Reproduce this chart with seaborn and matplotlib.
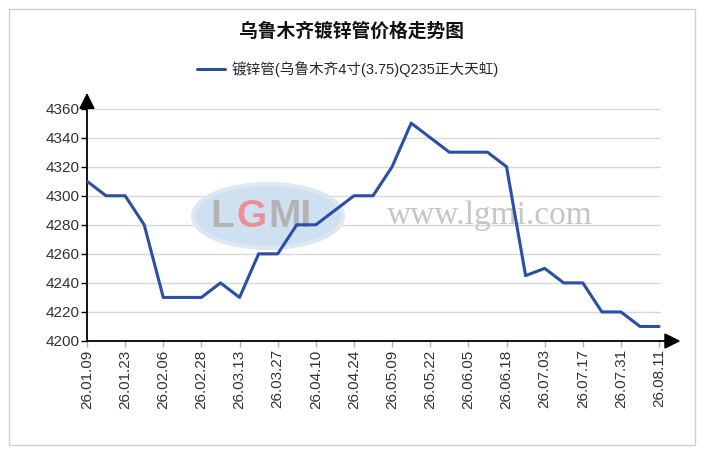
import matplotlib
matplotlib.use('Agg')
import matplotlib.pyplot as plt
from matplotlib.patches import Rectangle, Ellipse
import seaborn as sns
import pandas as pd

# 数据：周度价格，标签每两周显示一次
tick_labels = ['26.01.09', '26.01.23', '26.02.06', '26.02.28', '26.03.13', '26.03.27',
               '26.04.10', '26.04.24', '26.05.09', '26.05.22', '26.06.05', '26.06.18',
               '26.07.03', '26.07.17', '26.07.31', '26.08.11']
prices = [4310, 4300, 4300, 4280, 4230, 4230, 4230, 4240, 4230, 4260, 4260,
          4280, 4280, 4290, 4300, 4300, 4320, 4350, 4340, 4330, 4330, 4330,
          4320, 4245, 4250, 4240, 4240, 4220, 4220, 4210, 4210]
series_name = '镀锌管(乌鲁木齐4寸(3.75)Q235正大天虹)'
title = '乌鲁木齐镀锌管价格走势图'

df = pd.DataFrame({'idx': range(len(prices)), 'price': prices})

sns.set_theme(style='white')
plt.rcParams['font.family'] = ['Liberation Sans', 'Noto Sans CJK SC', 'DejaVu Sans']

W, H = 704, 450
fig = plt.figure(figsize=(W / 100, H / 100), dpi=100)
fig.patch.set_facecolor('white')

# 外框
fig.patches.append(Rectangle((9 / W, 5 / H), 686 / W, 436 / H, transform=fig.transFigure,
                             fill=False, edgecolor='#cfcfcf', lw=1))

ax = fig.add_axes([87 / W, (H - 341) / H, (661 - 87) / W, (341 - 97) / H])

# 水印
ax.add_patch(Ellipse((268 / W, (H - 216) / H), 150 / W, 64 / H, transform=fig.transFigure,
                     facecolor='#cfe0f1', edgecolor='#dde8f4', lw=3, zorder=1))
ax.text(210 / W, (H - 217) / H, 'L', transform=fig.transFigure, fontsize=28, weight='bold',
        color='#b3b3b3', ha='left', va='center', zorder=2)
ax.text(236 / W, (H - 217) / H, 'G', transform=fig.transFigure, fontsize=28, weight='bold',
        color='#ec8f96', ha='left', va='center', zorder=2)
ax.text(268 / W, (H - 217) / H, 'MI', transform=fig.transFigure, fontsize=28, weight='bold',
        color='#b3b3b3', ha='left', va='center', zorder=2)
ax.text(490 / W, (H - 216) / H, 'www.lgmi.com', transform=fig.transFigure,
        fontsize=24, family='Liberation Serif', color='#c6c6c6',
        ha='center', va='center', zorder=2)

sns.lineplot(data=df, x='idx', y='price', ax=ax, color='#2b4ea8', lw=2.2,
             label=series_name, zorder=5)

ax.set_xlim(0, 30.1)
ax.set_ylim(4200, 4368)
ax.set_xticks(range(0, len(prices), 2))
ax.set_xticklabels(tick_labels, rotation=90, fontsize=11, color='#333333')
ax.set_yticks(range(4200, 4361, 20))
ax.set_yticklabels([str(v) for v in range(4200, 4361, 20)], fontsize=11, color='#333333')
ax.set_xlabel('')
ax.set_ylabel('')

ax.yaxis.grid(True, color='#d8d8d8', lw=1)
ax.xaxis.grid(False)
for s in ax.spines.values():
    s.set_visible(False)
ax.tick_params(axis='y', length=4, width=1, color='black', pad=1, left=True)
ax.tick_params(axis='x', length=4, width=1, color='#b0b0b0', pad=2, bottom=True)

# 坐标轴箭头
arrow = dict(arrowstyle='-|>,head_length=0.8,head_width=0.4', color='black', lw=1.3,
             shrinkA=0, shrinkB=0)
ax.annotate('', xy=(1.034, 0), xytext=(0, 0), xycoords='axes fraction', arrowprops=arrow)
ax.annotate('', xy=(0, 1.017), xytext=(0, 0), xycoords='axes fraction', arrowprops=arrow)

handles, labels = ax.get_legend_handles_labels()
ax.get_legend().remove()
fig.legend(handles, labels, loc='center', bbox_to_anchor=(348 / W, (H - 69) / H),
           frameon=False, fontsize=10.5, handlelength=1.9, handletextpad=0.5)

fig.text(351 / W, (H - 31) / H, title, ha='center', va='center', fontsize=13.5,
         weight='bold', family=['Noto Sans CJK SC', 'DejaVu Sans'], color='#111111')

fig.savefig('out.png', dpi=100)
